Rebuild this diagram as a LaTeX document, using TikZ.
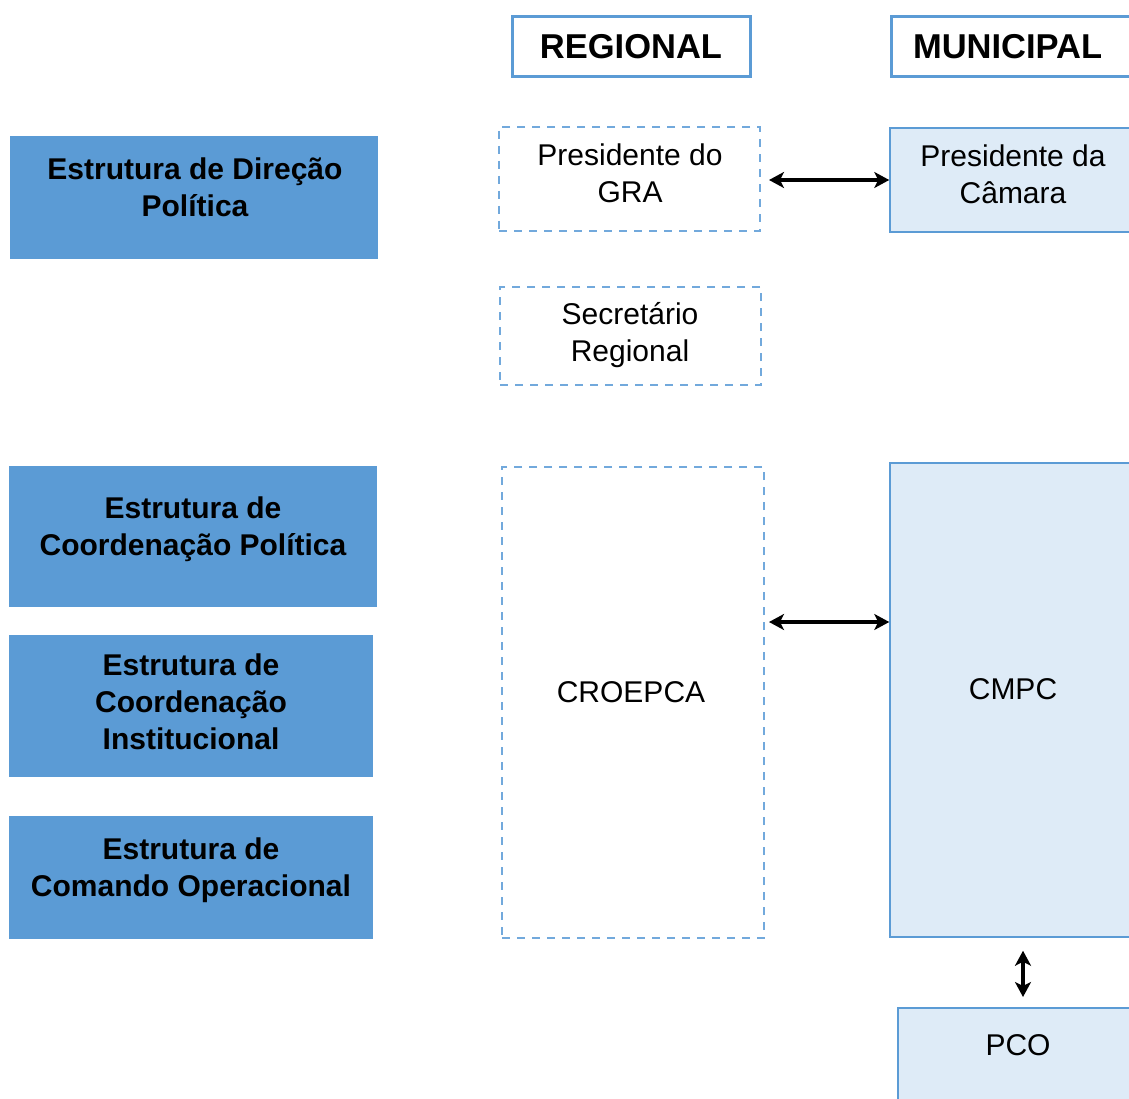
\documentclass[tikz,border=0pt]{standalone}
\usepackage{fontspec}
\setmainfont{Liberation Sans}
\usetikzlibrary{arrows.meta}

\definecolor{bluefill}{HTML}{5B9BD5}
\definecolor{lightfill}{HTML}{DEEBF7}
\definecolor{blueline}{HTML}{5B9BD5}
\definecolor{dashline}{HTML}{72A9DC}

\begin{document}
\begin{tikzpicture}[x=1pt,y=-1pt,
  headbox/.style={draw=blueline,line width=3pt,inner sep=0pt,font=\bfseries\fontsize{34.5}{40}\selectfont},
  dashbox/.style={draw=dashline,line width=2pt,dash pattern=on 8pt off 7pt,inner sep=0pt},
  lightbox/.style={draw=blueline,line width=1.5pt,fill=lightfill,inner sep=0pt},
  levelbox/.style={fill=bluefill,inner sep=0pt},
  leveltxt/.style={align=center,font=\bfseries\fontsize{30}{37}\selectfont},
  plaintxt/.style={align=center,font=\fontsize{30}{37}\selectfont},
  >={Stealth[length=15pt,width=16pt,inset=4pt]},
  biarrow/.style={<->,line width=3.5pt}]
\fill [white] (0, 0) rectangle (1129, 1099);
\clip (0, 0) rectangle (1129, 1099);

\node [levelbox,minimum width=368,minimum height=123] (dirpol) at (194, 197.5) {};
\node [levelbox,minimum width=368,minimum height=141] (coordpol) at (193, 536.5) {};
\node [levelbox,minimum width=364,minimum height=142] (coordinst) at (191, 706) {};
\node [levelbox,minimum width=364,minimum height=123] (comop) at (191, 877.5) {};

\node [leveltxt] (dirpol-txt) at (195, 187) {Estrutura de Direção\\Política};
\node [leveltxt] (coordpol-txt) at (193, 529) {Estrutura de\\Coordenação Política};
\node [leveltxt] (coordinst-txt) at (191, 702) {Estrutura de\\Coordenação\\Institucional};
\node [leveltxt] (comop-txt) at (191, 870) {Estrutura de\\Comando Operacional};

\node [headbox,minimum width=238,minimum height=60] (regional) at (631, 47) {REGIONAL};
\node [headbox,minimum width=240,minimum height=60,text width=220,align=left] (municipal) at (1011, 47) {\hspace*{12pt}MUNICIPAL};

\node [dashbox,minimum width=261,minimum height=104] (presgra) at (629.5, 179) {};
\node [plaintxt] (presgra-txt) at (630, 173) {Presidente do\\GRA};
\node [dashbox,minimum width=261,minimum height=98] (secreg) at (630.5, 336) {};
\node [plaintxt] (secreg-txt) at (630, 335.5) {Secretário\\Regional};
\node [dashbox,minimum width=262,minimum height=471] (croepca) at (633, 702.5) {};
\node [plaintxt] (croepca-txt) at (631, 692) {CROEPCA};

\node [lightbox,minimum width=246,minimum height=104] (prescam) at (1013, 180) {};
\node [plaintxt] (prescam-txt) at (1013, 174) {Presidente da\\Câmara};
\node [lightbox,minimum width=246,minimum height=474] (cmpc) at (1013, 700) {};
\node [plaintxt] (cmpc-txt) at (1013, 689) {CMPC};
\node [lightbox,anchor=north west,minimum width=243,minimum height=160] (pco) at (897, 1007) {};
\node [plaintxt] (pco-txt) at (1018, 1045) {PCO};

\coordinate (toparrow) at (0, 180);
\coordinate (midarrow) at (0, 622);
\coordinate (downarrow) at (1023, 0);

\draw [biarrow,shorten <=8pt] (presgra.east |- toparrow) -- (prescam.west |- toparrow);
\draw [biarrow,shorten <=4pt] (croepca.east |- midarrow) -- (cmpc.west |- midarrow);
\draw [biarrow,shorten <=13pt,shorten >=10pt] (cmpc.south -| downarrow) -- (pco.north -| downarrow);
\end{tikzpicture}
\end{document}
